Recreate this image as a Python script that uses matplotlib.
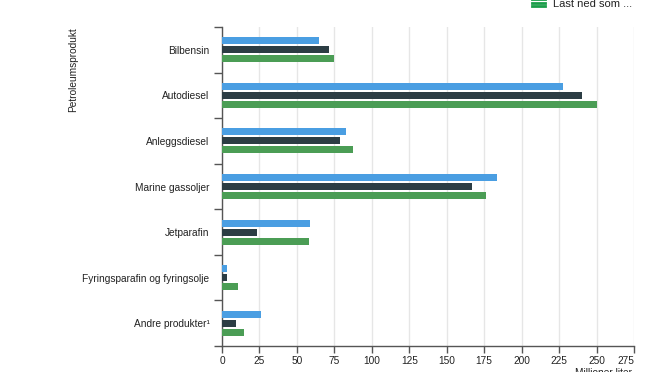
import numpy as np
import matplotlib.pyplot as plt

plt.rcParams['font.family'] = ['Liberation Sans', 'DejaVu Sans']

products = ["Bilbensin", "Autodiesel", "Anleggsdiesel", "Marine gassoljer",
            "Jetparafin", "Fyringsparafin og fyringsolje", "Andre produkter\u00b9"]
series_a = [64.5, 227.5, 82.5, 183.5, 58.5, 3.5, 26]
series_b = [71.5, 240, 79, 167, 23.5, 3.5, 9.5]
series_c = [74.5, 250, 87.5, 176, 58, 10.5, 14.5]
xticks = [0, 25, 50, 75, 100, 125, 150, 175, 200, 225, 250, 275]

colors = ['#4a9ee2', '#2c3d44', '#4b9d55']
text_col = '#222222'
axis_col = '#555555'
fs = 7.3

fig = plt.figure(figsize=(6.72, 3.72), dpi=100)
ax = fig.add_axes([222 / 672, 1 - 346 / 372, 412 / 672, 319 / 372])

y = np.arange(len(products))
step = 0.198
h = 0.154
for i, vals in enumerate([series_a, series_b, series_c]):
    ax.barh(y + (i - 1) * step, vals, height=h, color=colors[i], zorder=3)

ax.set_xlim(0, 275)
ax.set_ylim(len(products) - 0.5, -0.5)

ax.set_xticks(xticks)
ax.set_xticklabels([str(t) for t in xticks], fontsize=fs, color=text_col)
ax.get_xticklabels()[-1].set_horizontalalignment('right')
ax.tick_params(axis='x', length=5, width=1, color=axis_col, pad=2.5)

ax.set_yticks(y)
ax.set_yticklabels(products, fontsize=fs, color=text_col)
ax.tick_params(axis='y', which='major', length=0, pad=9)
ax.set_yticks(np.arange(-0.5, len(products)), minor=True)
ax.tick_params(axis='y', which='minor', length=6, width=1, color=axis_col)

ax.grid(axis='x', color='#e6e6e6', linewidth=1, zorder=0)
for s in ['top', 'right']:
    ax.spines[s].set_visible(False)
for s in ['left', 'bottom']:
    ax.spines[s].set_color(axis_col)
    ax.spines[s].set_linewidth(1)

fig.text(73 / 672, 1 - 27 / 372, "Petroleumsprodukt", rotation=90,
         ha='center', va='top', fontsize=fs, color=text_col)
fig.text(575 / 672, 1 - 368.5 / 372, "Millioner liter", ha='left', va='top',
         fontsize=fs, color=text_col)

# download button, partly outside the top edge
for yy in [-1, 2.5, 6]:
    fig.add_artist(plt.Line2D([532 / 672, 545 / 672], [1 - yy / 372] * 2,
                              color='#1a9d49', linewidth=2))
fig.text(553 / 672, 1 - 7 / 372, "Last ned som ...", ha='left', va='baseline',
         fontsize=8, color=text_col)

fig.savefig('out.png', dpi=100)
